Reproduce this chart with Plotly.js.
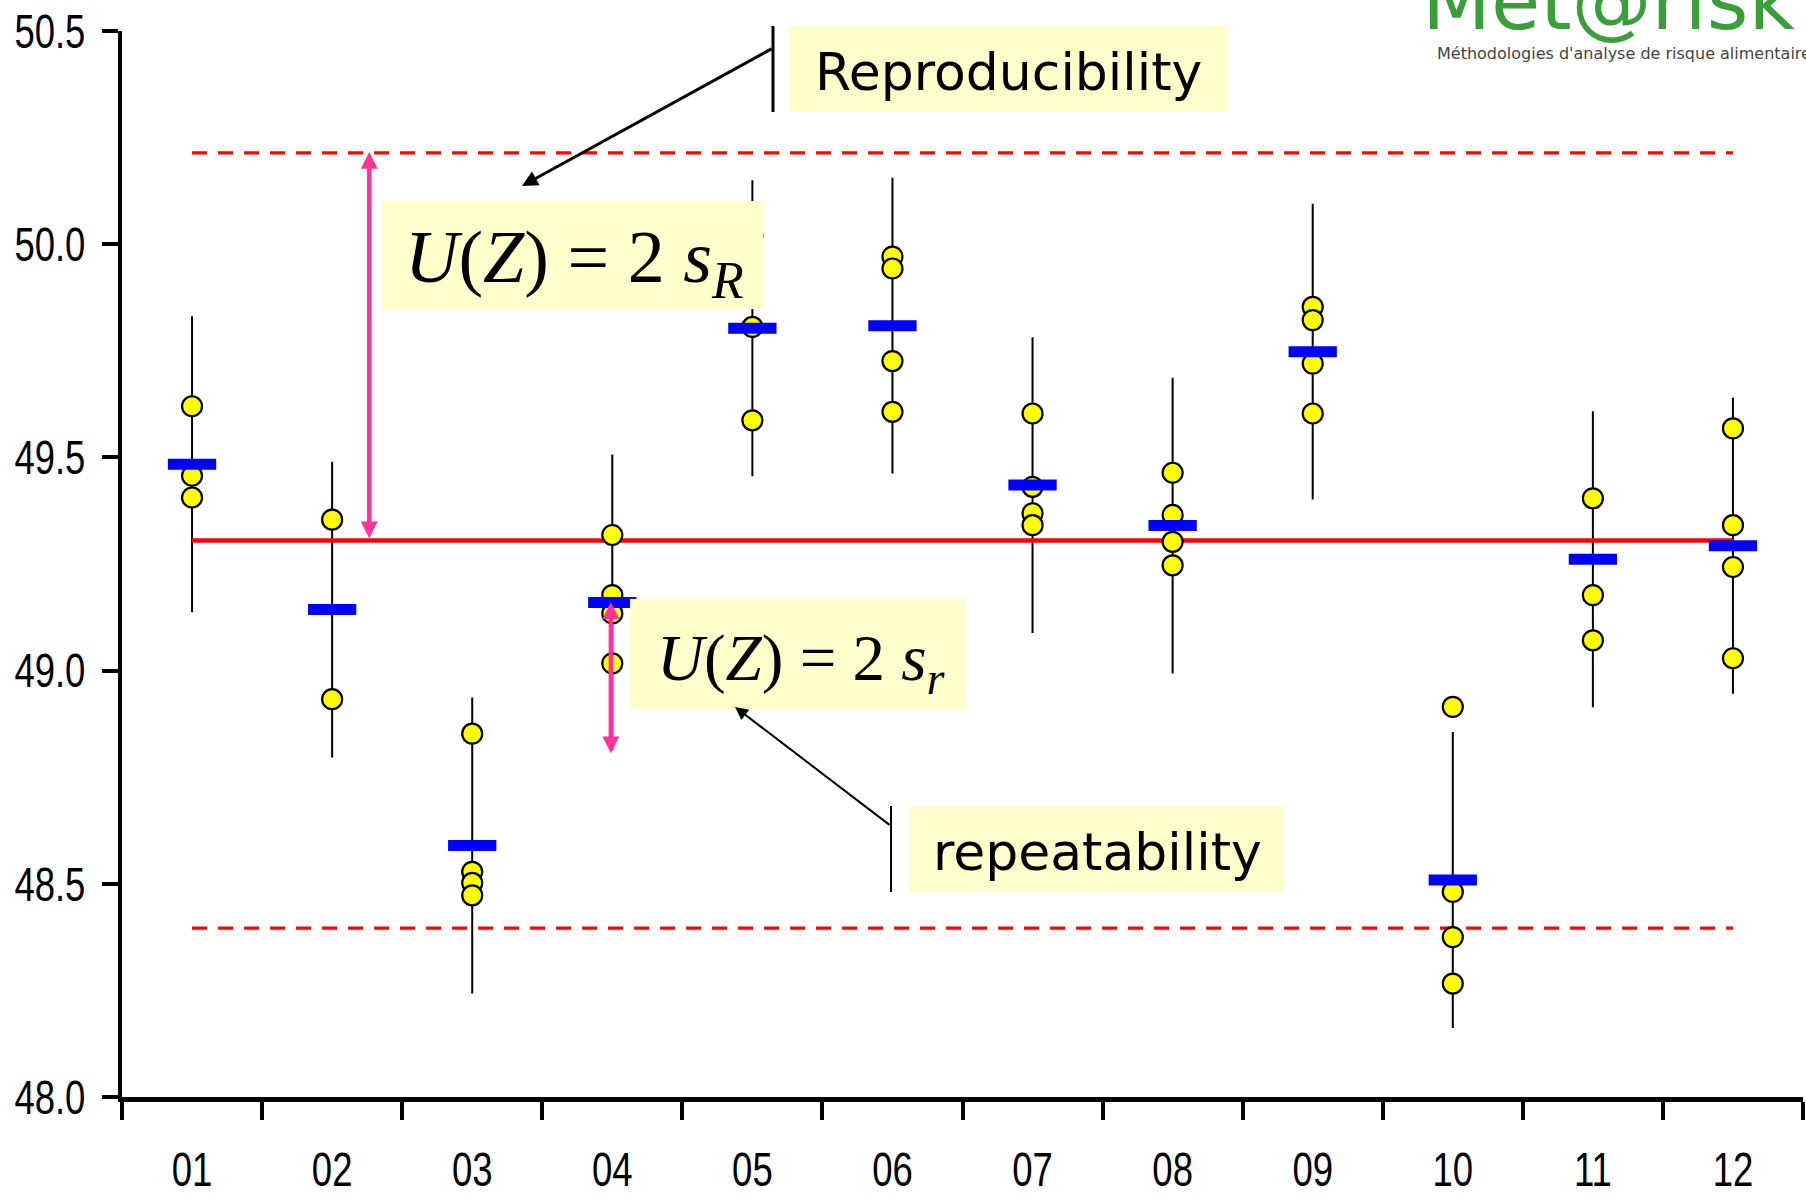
<!DOCTYPE html>
<html>
<head>
<meta charset="utf-8">
<script src="https://cdn.plot.ly/plotly-3.0.1.min.js"></script>
<style>html,body{margin:0;padding:0;background:#fff;}#chart{width:1806px;height:1195px;}</style>
</head>
<body>
<div id="chart"></div>
<script>
// ---- data ----
const labs = ['01','02','03','04','05','06','07','08','09','10','11','12'];
const replicates = [
  [49.620, 49.457, 49.406],
  [49.354, 48.933],
  [48.852, 48.528, 48.502, 48.473],
  [49.318, 49.177, 49.134, 49.017],
  [50.020, 49.806, 49.587],
  [49.971, 49.943, 49.726, 49.607],
  [49.603, 49.431, 49.369, 49.341],
  [49.464, 49.365, 49.302, 49.247],
  [49.853, 49.822, 49.720, 49.603],
  [48.915, 48.481, 48.375, 48.266],
  [49.404, 49.177, 49.071],
  [49.568, 49.341, 49.243, 49.029]
];
const labMeans = [49.484, 49.143, 48.590, 49.160, 49.803, 49.809, 49.435, 49.340, 49.748, 48.509, 49.261, 49.293];
const whiskerHalf = [0.347, 0.347, 0.347, 0.347, 0.347, 0.347, 0.347, 0.347, 0.347, 0.347, 0.347, 0.347];
const refValue = 49.305;
const upperLimit = 50.214;
const lowerLimit = 48.396;
const sRArrow = {x: 1.265, top: 50.22, bottom: 49.31};
const srArrow = {x: 2.99, top: 49.164, bottom: 48.806};
const yTicks = [48.0, 48.5, 49.0, 49.5, 50.0, 50.5];

// ---- layout geometry (pixels) ----
const W = 1806, H = 1195;
const M = {l: 122, r: 3, t: 31, b: 98};
const PW = W - M.l - M.r, PH = H - M.t - M.b;
const px = v => (v - M.l) / PW;
const py = v => (M.t + PH - v) / PH;

const repX = [], repY = [];
replicates.forEach((arr, i) => arr.forEach(v => { repX.push(labs[i]); repY.push(v); }));

const endsX = [labs[0], labs[labs.length - 1]];

const traces = [
  { // whiskers
    x: labs, y: labMeans, type: 'scatter', mode: 'markers',
    marker: {size: 1, color: 'rgba(0,0,0,0)'},
    error_y: {type: 'data', array: whiskerHalf, visible: true, color: '#000', thickness: 2, width: 0},
    hoverinfo: 'skip', showlegend: false
  },
  { // upper dashed
    x: endsX, y: [upperLimit, upperLimit], type: 'scatter', mode: 'lines',
    line: {color: '#FF0000', width: 3.3, dash: '15px,11px'}, showlegend: false
  },
  { // lower dashed
    x: endsX, y: [lowerLimit, lowerLimit], type: 'scatter', mode: 'lines',
    line: {color: '#FF0000', width: 3.3, dash: '15px,11px'}, showlegend: false
  },
  { // reference
    x: endsX, y: [refValue, refValue], type: 'scatter', mode: 'lines',
    line: {color: '#FF0000', width: 4.5}, showlegend: false
  },
  { // replicates
    x: repX, y: repY, type: 'scatter', mode: 'markers',
    marker: {symbol: 'circle', size: 20, color: '#FFFF00', line: {color: '#000', width: 2.2}},
    showlegend: false
  },
  { // lab means
    x: labs, y: labMeans, type: 'scatter', mode: 'markers',
    marker: {symbol: 'line-ew', size: 34.5, color: '#0000FF', line: {color: '#0000FF', width: 11}},
    showlegend: false
  }
];

const boxFill = '#FFFFCC';
const rect = (x0, y0, x1, y1) => ({type: 'rect', xref: 'paper', yref: 'paper', layer: 'above',
  x0: px(x0), x1: px(x1), y0: py(y1), y1: py(y0), fillcolor: boxFill, line: {width: 0}});
const vline = (x, y0, y1, w) => ({type: 'line', xref: 'paper', yref: 'paper', layer: 'above',
  x0: px(x), x1: px(x), y0: py(y0), y1: py(y1), line: {color: '#000', width: w}});

const shapes = [
  rect(382, 201, 763, 309),
  rect(630, 599, 966, 709),
  rect(789, 26, 1227, 112),
  rect(909, 806, 1284, 892),
  vline(773, 26, 112, 3),
  vline(891, 806, 892, 2)
];

const pink = '#FF3399';
const tickFamily = 'Liberation Sans, Arial, sans-serif';
const serif = 'Liberation Serif, Times New Roman, serif';

const annotations = [
  // pink double arrows (data coordinates)
  {x: sRArrow.x, y: sRArrow.bottom, ax: sRArrow.x, ay: sRArrow.top, xref: 'x', yref: 'y', axref: 'x', ayref: 'y',
   text: '', showarrow: true, arrowside: 'end+start', arrowhead: 2, startarrowhead: 2,
   arrowsize: 0.75, startarrowsize: 0.75, arrowwidth: 4.5, arrowcolor: pink},
  {x: srArrow.x, y: srArrow.bottom, ax: srArrow.x, ay: srArrow.top, xref: 'x', yref: 'y', axref: 'x', ayref: 'y',
   text: '', showarrow: true, arrowside: 'end+start', arrowhead: 2, startarrowhead: 2,
   arrowsize: 0.75, startarrowsize: 0.75, arrowwidth: 4.5, arrowcolor: pink},
  // callout arrows (pixel placed)
  {x: px(522), y: py(186), xref: 'paper', yref: 'paper', ax: 773 - 522, ay: 48 - 186,
   text: '', showarrow: true, arrowhead: 2, arrowsize: 1.05, arrowwidth: 3, arrowcolor: '#000'},
  {x: px(735), y: py(707), xref: 'paper', yref: 'paper', ax: 891 - 735, ay: 826 - 707,
   text: '', showarrow: true, arrowhead: 2, arrowsize: 1.3, arrowwidth: 2, arrowcolor: '#000'},
  // formula texts
  {x: px(574), y: py(262), xref: 'paper', yref: 'paper', xanchor: 'center', yanchor: 'middle', showarrow: false,
   text: '<i>U</i>(<i>Z</i>) = 2 <i>s<sub>R</sub></i>', font: {family: serif, size: 74, color: '#000'}},
  {x: px(801), y: py(663), xref: 'paper', yref: 'paper', xanchor: 'center', yanchor: 'middle', showarrow: false,
   text: '<i>U</i>(<i>Z</i>) = 2 <i>s<sub>r</sub></i>', font: {family: serif, size: 65, color: '#000'}},
  // callout labels
  {x: px(1008), y: py(72), xref: 'paper', yref: 'paper', xanchor: 'center', yanchor: 'middle', showarrow: false,
   text: 'Reproducibility', font: {family: 'DejaVu Sans, sans-serif', size: 52, color: '#000'}},
  {x: px(1097), y: py(852), xref: 'paper', yref: 'paper', xanchor: 'center', yanchor: 'middle', showarrow: false,
   text: 'repeatability', font: {family: 'DejaVu Sans, sans-serif', size: 52, color: '#000'}},
  // logo
  {x: px(1420), y: py(1), xref: 'paper', yref: 'paper', xanchor: 'left', yanchor: 'middle', showarrow: false,
   text: 'Met@risk', font: {family: 'DejaVu Sans, sans-serif', size: 80, color: '#3A9E3A'}},
  {x: px(1435), y: py(53), xref: 'paper', yref: 'paper', xanchor: 'left', yanchor: 'middle', showarrow: false,
   text: 'Méthodologies d\'analyse de risque alimentaire', font: {family: 'DejaVu Sans, sans-serif', size: 16, color: '#444'}}
];

const layout = {
  width: W, height: H,
  margin: M,
  paper_bgcolor: '#fff', plot_bgcolor: '#fff',
  showlegend: false,
  xaxis: {
    type: 'category', categoryorder: 'array', categoryarray: labs,
    range: [-0.5, labs.length - 0.5],
    tickson: 'boundaries', ticks: 'outside', ticklen: 18, tickwidth: 4, tickcolor: '#000',
    showline: true, linewidth: 5, linecolor: '#000', showgrid: false, zeroline: false,
    tickfont: {family: tickFamily, size: 48, color: '#000'},
    ticklabelstandoff: 26
  },
  yaxis: {
    range: [48.0, 50.5], tickmode: 'array', tickvals: yTicks, tickformat: '.1f',
    ticks: 'outside', ticklen: 16, tickwidth: 4, tickcolor: '#000',
    showline: true, linewidth: 4, linecolor: '#000', showgrid: false, zeroline: false,
    tickfont: {family: tickFamily, size: 48, color: '#000'},
    ticklabelstandoff: 7
  },
  shapes: shapes,
  annotations: annotations
};

// condensed look of the original tick font: squeeze glyphs horizontally
function condenseTickLabels(gd) {
  gd.querySelectorAll('.xtick text, .ytick text').forEach(t => {
    const w = t.getComputedTextLength();
    if (w > 0) {
      t.setAttribute('textLength', (w * 0.76).toFixed(1));
      t.setAttribute('lengthAdjust', 'spacingAndGlyphs');
    }
  });
}

Plotly.newPlot('chart', traces, layout, {displayModeBar: false, staticPlot: true}).then(condenseTickLabels);
</script>
</body>
</html>
